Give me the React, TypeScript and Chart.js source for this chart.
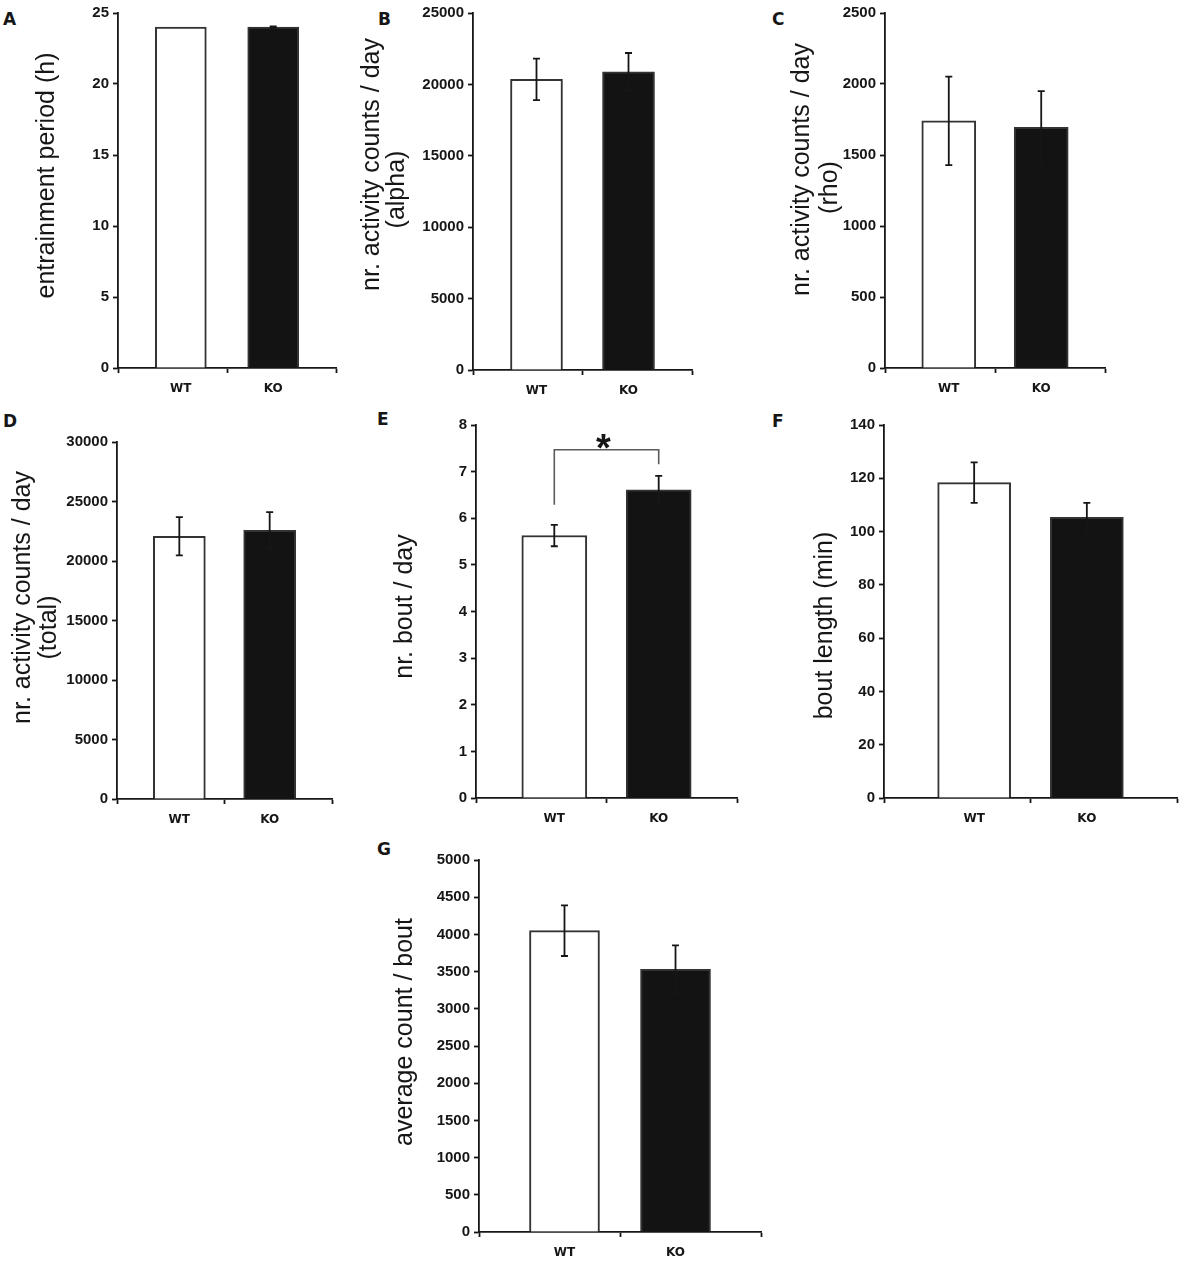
import React, { useEffect, useRef } from 'react';
import { Chart, registerables } from 'chart.js';

Chart.register(...registerables);

const categories = ['WT', 'KO'];

// A - entrainment period
const periodMean = [24.0, 24.0];
const periodErr = [0, 0.05];
const periodTicks = [0, 5, 10, 15, 20, 25];

// B - activity counts (alpha)
const alphaMean = [20350, 20880];
const alphaErr = [1450, 1320];
const alphaTicks = [0, 5000, 10000, 15000, 20000, 25000];

// C - activity counts (rho)
const rhoMean = [1740, 1695];
const rhoErr = [312, 255];
const rhoTicks = [0, 500, 1000, 1500, 2000, 2500];

// D - activity counts (total)
const totalMean = [22080, 22580];
const totalErr = [1600, 1520];
const totalTicks = [0, 5000, 10000, 15000, 20000, 25000, 30000];

// E - bouts per day
const boutsMean = [5.63, 6.61];
const boutsErr = [0.23, 0.3];
const boutsTicks = [0, 1, 2, 3, 4, 5, 6, 7, 8];
const boutsBracket = [6.29, 7.47, 7.16]; // left leg end, top, right leg end
const boutsStar = 7.7;

// F - bout length
const boutLenMean = [118.4, 105.3];
const boutLenErr = [7.6, 5.5];
const boutLenTicks = [0, 20, 40, 60, 80, 100, 120, 140];

// G - average count per bout
const countMean = [4050, 3530];
const countErr = [340, 322];
const countTicks = [0, 500, 1000, 1500, 2000, 2500, 3000, 3500, 4000, 4500, 5000];

const LEFT = 120;
const TOP = 15;
const RIGHT = 4;
const BOTTOM = 32;
const INK = '#161616';
const LABEL_FONT = '"DejaVu Sans", "Liberation Sans", Arial, sans-serif';
const TITLE_FONT = '"Liberation Sans", Arial, sans-serif';

type TitleLine = { text: string; dx: number; dy: number };

type PanelSpec = {
    letter: string;
    letterX: number;
    letterY: number;
    axisX: number;
    top: number;
    zero: number;
    right: number;
    pad: number;
    barW: number;
    mean: number[];
    err: number[];
    ticks: number[];
    title: TitleLine[];
    bracket?: number[];
    star?: number;
};

const panels: PanelSpec[] = [
    {
        letter: 'A', letterX: 3, letterY: 19, axisX: 118, top: 13, zero: 368, right: 341, pad: 0.68, barW: 51,
        mean: periodMean, err: periodErr, ticks: periodTicks,
        title: [{ text: 'entrainment period (h)', dx: -71, dy: -15 }],
    },
    {
        letter: 'B', letterX: 378, letterY: 19, axisX: 473, top: 13, zero: 370, right: 697, pad: 0.69, barW: 52,
        mean: alphaMean, err: alphaErr, ticks: alphaTicks,
        title: [
            { text: 'nr. activity counts / day', dx: -101, dy: -27 },
            { text: '(alpha)', dx: -76, dy: -2 },
        ],
    },
    {
        letter: 'C', letterX: 772, letterY: 19, axisX: 885, top: 13, zero: 368, right: 1110, pad: 0.69, barW: 54,
        mean: rhoMean, err: rhoErr, ticks: rhoTicks,
        title: [
            { text: 'nr. activity counts / day', dx: -83, dy: -21 },
            { text: '(rho)', dx: -55, dy: -3 },
        ],
    },
    {
        letter: 'D', letterX: 3, letterY: 421, axisX: 117, top: 442, zero: 799, right: 337, pad: 0.69, barW: 52,
        mean: totalMean, err: totalErr, ticks: totalTicks,
        title: [
            { text: 'nr. activity counts / day', dx: -94, dy: -23 },
            { text: '(total)', dx: -68, dy: 7 },
        ],
    },
    {
        letter: 'E', letterX: 377, letterY: 419, axisX: 476, top: 425, zero: 798, right: 742, pad: 0.75, barW: 65,
        mean: boutsMean, err: boutsErr, ticks: boutsTicks,
        title: [{ text: 'nr. bout / day', dx: -71, dy: -5 }],
        bracket: boutsBracket, star: boutsStar,
    },
    {
        letter: 'F', letterX: 772, letterY: 421, axisX: 884, top: 425, zero: 798, right: 1182, pad: 0.8, barW: 73,
        mean: boutLenMean, err: boutLenErr, ticks: boutLenTicks,
        title: [{ text: 'bout length (min)', dx: -59, dy: 14 }],
    },
    {
        letter: 'G', letterX: 377, letterY: 849, axisX: 479, top: 860, zero: 1232, right: 766, pad: 0.77, barW: 70,
        mean: countMean, err: countErr, ticks: countTicks,
        title: [{ text: 'average count / bout', dx: -74, dy: -14 }],
    },
];

function Panel({ p }: { p: PanelSpec }) {
    const canvasRef = useRef<HTMLCanvasElement | null>(null);

    useEffect(() => {
        if (!canvasRef.current) return;

        const overlay = {
            id: 'overlay',
            afterDatasetsDraw(chart: any) {
                const ctx = chart.ctx;
                const meta = chart.getDatasetMeta(0);
                const ys = chart.scales.y;
                ctx.save();
                ctx.strokeStyle = INK;
                ctx.lineWidth = 1.8;
                p.mean.forEach((m, i) => {
                    const e = p.err[i];
                    if (!e) return;
                    const x = meta.data[i].x;
                    const y1 = ys.getPixelForValue(m + e);
                    const y2 = ys.getPixelForValue(m - e);
                    ctx.beginPath();
                    ctx.moveTo(x, y1);
                    ctx.lineTo(x, y2);
                    ctx.moveTo(x - 3.5, y1);
                    ctx.lineTo(x + 3.5, y1);
                    ctx.moveTo(x - 3.5, y2);
                    ctx.lineTo(x + 3.5, y2);
                    ctx.stroke();
                });
                if (p.bracket) {
                    const xL = meta.data[0].x;
                    const xR = meta.data[1].x;
                    const yTop = ys.getPixelForValue(p.bracket[1]);
                    ctx.strokeStyle = '#5a5a5a';
                    ctx.lineWidth = 1.6;
                    ctx.beginPath();
                    ctx.moveTo(xL, ys.getPixelForValue(p.bracket[0]));
                    ctx.lineTo(xL, yTop);
                    ctx.lineTo(xR, yTop);
                    ctx.lineTo(xR, ys.getPixelForValue(p.bracket[2]));
                    ctx.stroke();
                    if (p.star !== undefined) {
                        const size = 38;
                        ctx.fillStyle = INK;
                        ctx.font = `bold ${size}px ${TITLE_FONT}`;
                        ctx.textAlign = 'center';
                        ctx.textBaseline = 'alphabetic';
                        ctx.fillText('*', (xL + xR) / 2 - 3, ys.getPixelForValue(p.star) + size * 0.58);
                    }
                }
                ctx.restore();
            },
            afterDraw(chart: any) {
                const ctx = chart.ctx;
                const area = chart.chartArea;
                const midY = (area.top + area.bottom) / 2;
                ctx.save();
                ctx.fillStyle = INK;
                ctx.font = `25px ${TITLE_FONT}`;
                ctx.textAlign = 'center';
                ctx.textBaseline = 'middle';
                p.title.forEach((line) => {
                    ctx.save();
                    ctx.translate(area.left + line.dx, midY + line.dy);
                    ctx.rotate(-Math.PI / 2);
                    ctx.fillText(line.text, 0, 0);
                    ctx.restore();
                });
                ctx.restore();
            },
        };

        const xTicks = [-p.pad, 0, 0.5, 1, 1 + p.pad];

        const chart = new Chart(canvasRef.current, {
            type: 'bar',
            data: {
                datasets: [
                    {
                        data: p.mean.map((v, i) => ({ x: i, y: v })),
                        backgroundColor: ['#ffffff', '#131313'],
                        borderColor: '#333333',
                        borderWidth: 2,
                        barThickness: p.barW,
                    },
                ],
            },
            options: {
                animation: false,
                responsive: true,
                maintainAspectRatio: false,
                layout: { padding: { left: 0, top: TOP, right: RIGHT, bottom: 0 }, autoPadding: false },
                plugins: {
                    legend: { display: false },
                    tooltip: { enabled: false },
                },
                scales: {
                    x: {
                        type: 'linear',
                        min: -p.pad,
                        max: 1 + p.pad,
                        offset: false,
                        afterBuildTicks: (s: any) => {
                            s.ticks = xTicks.map((value) => ({ value }));
                        },
                        afterFit: (s: any) => {
                            s.height = BOTTOM;
                        },
                        grid: {
                            display: true,
                            offset: false,
                            drawOnChartArea: false,
                            drawTicks: true,
                            tickLength: 5,
                            tickWidth: 1.8,
                            tickColor: (c: any) =>
                                c.tick && (c.tick.value === 0 || c.tick.value === 1) ? 'rgba(0,0,0,0)' : INK,
                        },
                        border: { display: true, color: INK, width: 1.8 },
                        ticks: {
                            autoSkip: false,
                            maxRotation: 0,
                            padding: 9,
                            color: INK,
                            font: { family: LABEL_FONT, weight: 'bold', size: 12 },
                            callback: (v: any) => (v === 0 ? categories[0] : v === 1 ? categories[1] : ''),
                        },
                    },
                    y: {
                        min: p.ticks[0],
                        max: p.ticks[p.ticks.length - 1],
                        afterBuildTicks: (s: any) => {
                            s.ticks = p.ticks.map((value) => ({ value }));
                        },
                        afterFit: (s: any) => {
                            s.width = LEFT;
                        },
                        grid: {
                            display: true,
                            drawOnChartArea: false,
                            drawTicks: true,
                            tickLength: 5,
                            tickWidth: 1.8,
                            tickColor: INK,
                        },
                        border: { display: true, color: INK, width: 1.8 },
                        ticks: {
                            autoSkip: false,
                            padding: 4,
                            color: INK,
                            font: { family: TITLE_FONT, weight: 'bold', size: 15 },
                            callback: (v: any) => String(v),
                        },
                    },
                },
            },
            plugins: [overlay],
        } as any);

        return () => {
            chart.destroy();
        };
    }, [p]);

    const width = LEFT + (p.right - p.axisX) + RIGHT;
    const height = TOP + (p.zero - p.top) + BOTTOM;

    return (
        <>
            <div
                style={{
                    position: 'absolute',
                    left: p.letterX,
                    top: p.letterY - 8,
                    font: `bold 17px/17px ${LABEL_FONT}`,
                    color: INK,
                }}
            >
                {p.letter}
            </div>
            <div
                style={{
                    position: 'absolute',
                    left: p.axisX - LEFT,
                    top: p.top - TOP,
                    width,
                    height,
                }}
            >
                <canvas ref={canvasRef}></canvas>
            </div>
        </>
    );
}

export default function App() {
    return (
        <div
            style={{
                position: 'absolute',
                left: 0,
                top: 0,
                width: 1185,
                height: 1263,
                overflow: 'hidden',
                background: '#ffffff',
            }}
        >
            {panels.map((p) => (
                <Panel key={p.letter} p={p} />
            ))}
        </div>
    );
}
